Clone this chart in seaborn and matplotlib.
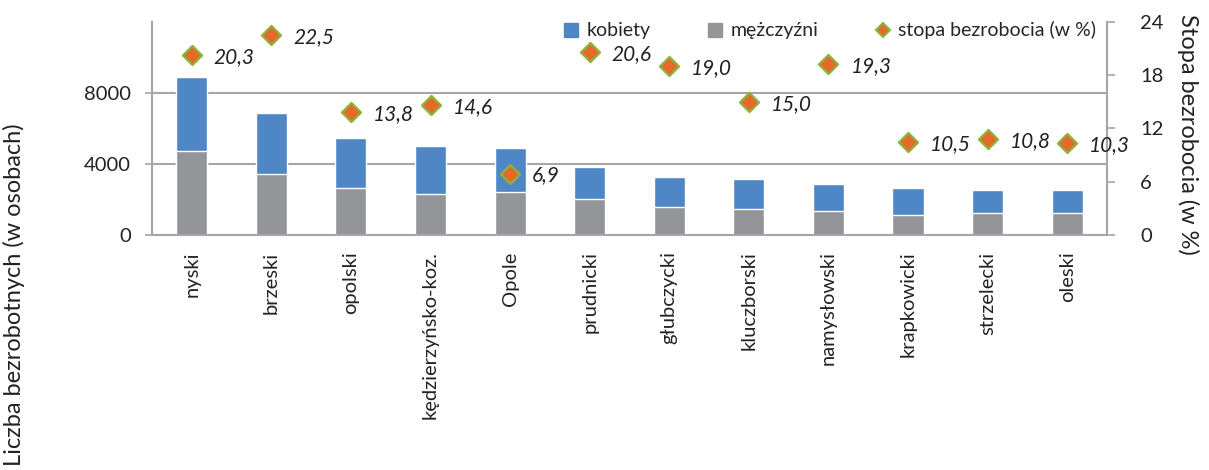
import matplotlib
matplotlib.use("Agg")
import matplotlib.pyplot as plt
from matplotlib.lines import Line2D
from matplotlib.ticker import FixedLocator
import numpy as np
import pandas as pd
import seaborn as sns

districts = ["nyski", "brzeski", "opolski", "kędzierzyńsko-koz.", "Opole", "prudnicki",
             "głubczycki", "kluczborski", "namysłowski", "krapkowicki", "strzelecki", "oleski"]
men = [4700, 3420, 2615, 2295, 2405, 1995, 1545, 1430, 1320, 1095, 1205, 1205]
women = [4225, 3435, 2850, 2720, 2495, 1820, 1725, 1725, 1535, 1520, 1315, 1315]
rates = [20.3, 22.5, 13.8, 14.6, 6.9, 20.6, 19.0, 15.0, 19.3, 10.5, 10.8, 10.3]
rate_labels = ["20,3", "22,5", "13,8", "14,6", "6,9", "20,6", "19,0", "15,0", "19,3", "10,5", "10,8", "10,3"]

blue = "#4F86C6"
gray = "#939598"
orange = "#E5692A"
green = "#8DB33A"
axis_gray = "#A6A6A6"
txt = "#222222"

sns.set_style("white")
plt.rcParams["font.family"] = ["Lato", "DejaVu Sans"]

df = pd.DataFrame({"powiat": districts, "men": men, "women": women, "rate": rates})
df["total"] = df["men"] + df["women"]

fig = plt.figure(figsize=(12.09, 4.70), dpi=100)
ax = fig.add_axes([0.1257, 0.5006, 0.7899, 0.4524])

# stacked bars: total in blue, men drawn over it in gray
sns.barplot(data=df, x="powiat", y="total", color=blue, width=0.39, saturation=1, ax=ax)
sns.barplot(data=df, x="powiat", y="men", color=gray, width=0.39, saturation=1, ax=ax)

ax.set_ylim(0, 12000)
ax.set_xlim(-0.5, len(districts) - 0.5)
ax.set_yticks([0, 4000, 8000])
ax.yaxis.grid(True, color=axis_gray, linewidth=1.5)
ax.set_axisbelow(True)
ax.set_xlabel("")
ax.set_ylabel("")
for s in ["top", "right"]:
    ax.spines[s].set_visible(False)
for s in ["left", "bottom"]:
    ax.spines[s].set_color(axis_gray)
    ax.spines[s].set_linewidth(1.5)
ax.tick_params(axis="y", direction="inout", length=10, width=1.2, color=axis_gray,
               labelsize=14.5, pad=10, labelcolor=txt)
ax.tick_params(axis="x", which="major", length=0, pad=12, labelsize=14.5, rotation=90,
               labelcolor=txt)
ax.xaxis.set_minor_locator(FixedLocator(np.arange(-0.5, len(districts), 1.0)))
ax.tick_params(axis="x", which="minor", length=5, width=1.2, color=axis_gray, direction="out")
for lbl in ax.get_xticklabels():
    lbl.set_verticalalignment("top")

# unemployment rate on the secondary axis
ax2 = ax.twinx()
sns.scatterplot(x=np.arange(len(rates)), y=rates, marker="D", s=95, color=orange,
                edgecolor=green, linewidth=1.6, ax=ax2, zorder=5, clip_on=False)
ax2.set_ylim(0, 24)
ax2.set_yticks([0, 6, 12, 18, 24])
for s in ["top", "left", "bottom"]:
    ax2.spines[s].set_visible(False)
ax2.spines["right"].set_color(axis_gray)
ax2.spines["right"].set_linewidth(1.5)
ax2.tick_params(axis="y", direction="out", length=6, width=1.2, color=axis_gray,
                labelsize=14.5, pad=18, labelcolor=txt)

for i, (r, t) in enumerate(zip(rates, rate_labels)):
    ax2.annotate(t, (i, r), xytext=(22, -2), textcoords="offset pixels", ha="left",
                 va="center", fontsize=15, style="italic", color=txt, zorder=6)

handles = [
    Line2D([], [], marker="s", linestyle="none", markersize=10, markerfacecolor=blue,
           markeredgecolor=blue),
    Line2D([], [], marker="s", linestyle="none", markersize=10, markerfacecolor=gray,
           markeredgecolor=gray),
    Line2D([], [], marker="D", linestyle="none", markersize=7, markerfacecolor=orange,
           markeredgecolor=green, markeredgewidth=1.5),
]
ax2.legend(handles, ["kobiety", "mężczyźni", "stopa bezrobocia (w %)"], ncol=3,
           loc="upper right", bbox_to_anchor=(0.997, 1.04), frameon=False, fontsize=14,
           handlelength=0.8, handletextpad=0.4, columnspacing=2.9, borderaxespad=0)

fig.text(0.0115, 0.372, "Liczba bezrobotnych (w osobach)", rotation=90, ha="center",
         va="center", fontsize=17, color=txt)
fig.text(0.983, 0.713, "Stopa bezrobocia (w %)", rotation=270, ha="center",
         va="center", fontsize=17, color=txt)

fig.savefig("out.png", dpi=100)
